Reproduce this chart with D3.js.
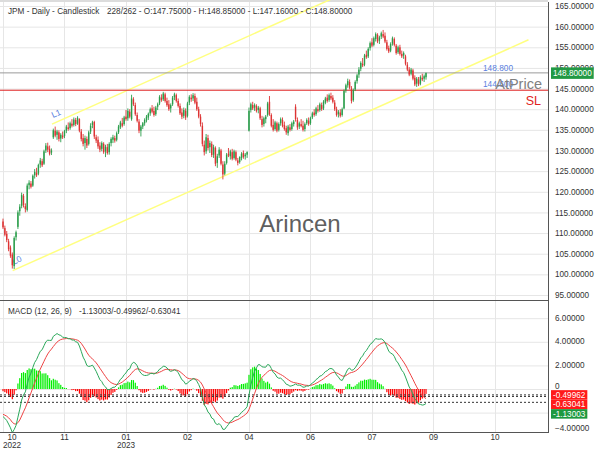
<!DOCTYPE html>
<html><head><meta charset="utf-8">
<script src="https://cdn.jsdelivr.net/npm/d3@7"></script>
<style>body{margin:0;background:#fff}svg{display:block;font-family:"Liberation Sans",Arial,sans-serif}</style>
</head><body><svg id="c" width="600" height="450"></svg>
<script>
// ---------- DATA ----------
const opens = [112.8,111.2,109.8,108.0,106.5,104.8,102.0,109.0,111.5,115.3,
116.6,119.0,116.5,115.6,121.6,122.0,121.5,124.0,124.6,124.4,
126.6,127.4,126.8,130.0,131.0,130.4,129.5,133.2,134.8,133.8,
134.4,132.9,133.6,133.5,134.8,135.6,135.4,136.5,136.2,137.4,
136.5,137.6,134.6,133.0,131.8,132.8,131.6,134.6,136.2,136.9,
133.2,132.6,131.2,130.4,131.6,129.8,130.8,129.6,131.8,132.6,
133.0,132.6,134.4,135.6,136.6,136.4,138.2,137.8,139.4,137.6,
142.4,141.0,138.6,137.0,134.8,135.8,136.6,137.3,138.0,139.0,
140.2,139.6,138.8,140.6,141.4,142.8,142.4,143.6,142.0,141.2,
140.2,141.2,142.9,143.4,142.0,140.8,139.2,138.4,139.6,138.4,
141.6,142.8,142.6,143.2,141.8,140.0,138.2,136.0,131.4,129.8,
133.0,130.8,131.6,129.0,130.6,127.0,128.8,130.0,126.6,124.4,
127.0,129.2,128.6,129.6,128.2,129.6,127.6,127.2,128.2,129.4,
128.6,129.0,134.8,139.8,141.0,140.4,140.8,139.8,140.2,137.6,
136.4,137.6,138.6,141.8,138.6,136.2,135.2,136.6,135.0,136.6,
137.4,136.2,135.4,134.2,135.6,135.2,136.4,140.6,137.4,135.8,
136.4,136.0,135.2,136.6,137.2,136.6,138.0,139.2,138.8,140.0,
139.8,141.0,140.2,141.6,142.8,142.2,143.2,142.8,141.6,140.0,
138.8,139.2,138.6,140.2,144.6,145.8,146.6,145.0,142.2,144.8,
146.8,148.4,149.8,151.0,150.8,153.2,152.8,154.8,156.2,155.6,
157.0,158.0,156.6,157.6,158.2,157.8,156.2,154.8,154.2,155.9,
157.0,155.4,153.8,155.0,153.4,153.0,152.8,150.8,149.6,148.6,
149.4,147.6,146.2,147.2,146.2,147.6,147.4,147.75];
const highs = [113.5,111.8,110.5,108.6,107.0,105.3,109.2,110.6,115.5,117.0,
119.8,119.5,117.2,122.0,122.8,122.6,124.2,125.5,125.8,126.8,
128.2,128.0,130.2,131.8,131.9,131.2,130.5,135.3,135.8,135.0,
134.9,134.2,134.6,135.0,136.2,136.8,137.0,137.6,138.0,137.9,
138.3,137.8,135.2,134.0,133.6,133.4,134.8,136.6,137.2,137.2,
133.8,133.4,132.0,132.2,132.0,131.4,131.6,132.0,133.2,133.8,
133.6,134.6,136.2,137.2,137.9,138.4,139.8,140.2,140.0,143.5,
142.9,141.6,139.2,137.6,136.2,136.9,137.8,138.6,139.2,140.4,
141.0,140.6,140.8,141.6,143.4,143.6,144.2,144.0,142.8,142.2,
141.4,143.2,144.0,143.8,142.6,141.4,140.2,140.4,140.2,141.8,
143.4,143.6,143.9,143.8,142.8,140.6,138.8,136.8,132.4,134.0,
133.8,132.4,132.2,131.4,131.0,129.2,130.8,130.4,127.4,127.4,
129.4,130.6,130.2,130.4,130.2,130.0,128.2,128.6,129.6,130.0,
129.4,129.8,140.4,141.6,141.8,141.4,141.2,140.8,140.6,138.4,
138.2,138.6,141.8,143.2,139.0,137.6,137.2,137.0,136.8,138.0,
138.0,137.0,136.0,136.2,136.4,137.0,137.4,141.2,138.0,137.0,
137.6,137.2,136.8,137.8,138.0,138.2,139.4,140.0,140.6,141.0,
141.6,141.6,142.2,143.0,143.6,143.8,144.0,143.4,142.2,140.6,
139.8,140.0,140.4,144.8,146.2,147.4,147.2,145.6,145.0,147.0,
148.6,150.2,151.6,152.4,153.4,154.2,155.0,156.4,157.2,157.6,
158.6,158.4,157.8,158.8,159.2,158.6,156.8,155.4,156.2,157.6,
157.4,155.8,155.4,155.6,154.2,154.0,153.2,151.4,150.2,150.0,
149.8,148.2,147.8,147.8,148.2,148.6,148.4,148.85];
const lows = [111.0,109.2,107.8,105.6,104.0,101.4,101.3,108.2,111.0,114.2,
116.0,116.2,115.0,115.2,120.6,120.8,121.2,123.2,123.6,124.0,
125.8,126.0,126.5,129.4,129.6,128.8,128.9,132.8,133.2,132.6,
132.2,132.0,132.8,133.0,134.2,134.8,135.0,135.6,135.8,135.9,
136.2,134.4,132.2,131.0,130.2,130.6,131.2,134.0,135.4,132.8,
131.8,130.4,129.6,129.8,129.2,128.4,129.0,129.0,131.0,131.8,
131.9,132.2,134.0,135.2,135.6,136.0,137.2,137.2,137.8,137.2,
140.8,138.4,136.8,134.2,133.4,135.2,136.0,136.8,137.4,138.4,
139.0,138.2,138.4,139.8,141.0,141.8,142.0,141.6,140.6,139.6,
139.2,140.8,142.2,141.6,140.4,138.6,137.6,137.8,137.4,138.0,
141.0,141.8,142.0,141.2,139.6,137.8,135.8,131.0,128.8,129.2,
130.0,129.4,128.4,128.2,126.2,125.8,128.2,126.4,123.0,124.0,
126.6,128.4,127.8,127.6,127.8,127.4,126.4,126.8,127.6,128.0,
127.8,128.2,134.6,139.2,139.8,139.6,139.2,139.0,137.4,135.6,
135.8,136.6,138.2,138.4,135.6,134.6,134.8,134.4,134.6,136.0,
135.6,134.8,133.8,133.6,134.6,134.8,135.8,137.0,135.0,135.2,
135.6,134.6,134.6,136.2,136.0,136.2,137.6,138.2,138.4,139.2,
139.4,139.6,139.8,141.2,141.6,141.8,142.2,141.4,139.6,138.2,
138.0,138.0,138.2,140.0,144.0,145.2,144.8,141.4,141.8,144.4,
146.2,147.6,149.2,150.2,150.4,152.2,152.4,154.2,155.0,155.2,
156.4,156.0,155.8,157.0,157.2,156.0,154.2,153.6,153.8,155.4,
155.2,153.2,153.4,153.0,152.4,152.2,150.6,149.2,148.0,148.2,
147.0,145.6,145.4,145.6,145.8,146.8,146.6,147.16];
const closes = [111.4,109.6,108.3,106.1,104.5,102.2,108.8,110.2,115.0,116.4,
119.2,116.8,115.8,121.5,122.2,121.2,123.9,124.8,124.0,126.5,
127.6,126.4,129.8,131.2,130.2,129.2,130.0,134.9,133.6,134.6,
132.8,133.8,133.2,134.7,135.8,135.2,136.6,136.0,137.5,136.4,
137.9,134.8,132.8,131.6,133.0,131.2,134.4,136.0,136.8,133.4,
132.4,131.0,130.2,131.8,129.6,130.9,129.4,131.6,132.8,133.2,
132.4,134.2,135.8,136.8,136.0,138.0,137.6,139.6,138.2,142.6,
141.2,138.8,137.2,134.8,135.8,136.6,137.4,138.2,138.9,140.0,
139.4,138.6,140.4,141.2,143.0,142.2,143.8,142.0,141.0,140.0,
141.0,142.8,143.6,142.0,140.8,139.0,138.2,139.8,138.0,141.4,
143.0,142.4,143.4,141.6,140.0,138.2,136.4,131.6,129.6,133.2,
130.6,131.8,128.9,130.8,126.8,128.6,130.2,126.8,124.2,126.8,
129.0,128.8,129.8,128.0,129.8,127.8,127.0,128.4,129.2,128.4,
129.0,129.6,139.6,141.2,140.2,141.0,139.6,140.4,137.8,136.2,
137.8,138.2,141.4,138.8,136.0,135.0,136.8,134.8,136.4,137.6,
136.0,135.2,134.4,135.8,135.0,136.6,137.0,137.6,135.6,136.6,
135.9,135.0,136.4,137.4,136.4,137.8,139.0,138.6,140.2,139.6,
141.2,140.0,141.8,142.6,142.0,143.4,142.6,141.8,140.0,138.6,
139.4,138.4,140.0,144.4,145.8,146.8,145.2,142.0,144.6,146.6,
148.2,149.6,151.2,150.6,153.0,152.6,154.6,156.0,155.4,157.2,
158.2,156.4,157.4,158.4,157.6,156.4,154.6,154.0,155.8,157.2,
155.6,153.6,155.0,153.4,152.8,153.6,151.0,149.6,148.4,149.6,
147.4,146.0,147.4,146.0,147.8,147.2,148.0,148.8];

const priceTicks = [95,100,105,110,115,120,125,130,135,140,145,150,155,160,165];
const macdTicks = [6,4,2,0,-2,-4];
const macdTickLabels = [6,4,2,0,-4];   // -2 label sits behind the value boxes in the reference
const xTickBars = [0,33,66,99,132,165,198,231,264];
const xTickMonths = ["10","11","01","02","04","06","07","09","10"];
const xTickYears = ["2022","","2023","","","","","",""];

const symbolTitle = "JPM - Daily - Candlestick";
const barInfo = "228/262 - O:147.75000 - H:148.85000 - L:147.16000 - C:148.80000";
const macdTitle = "MACD (12, 26, 9)";
const macdInfo = "-1.13003/-0.49962/-0.63041";
const lastPrice = 148.8;
const slPrice = 144.6;
const macdLast = -1.13003, signalLast = -0.49962, histLast = -0.63041;
// EMA state before the first visible bar (chart history starts earlier)
const ema12Seed = 114.0, ema26Seed = 116.3, signalSeed = -2.1;
// channel lines: [bar, price] anchors, slope in price per bar
const lowerAnchor = [5.2, 100.9], upperAnchor = [26.3, 136.4], channelSlope = 0.202, channelEnd = 282;

// ---------- LAYOUT ----------
const svg = d3.select("#c");
const axisX = 548, mainTop = 0, mainBot = 300, macdTop = 301, macdBot = 432;
const n = closes.length;
const x = d3.scaleLinear().domain([0, 227]).range([3, 426]);
const y = d3.scaleLinear().domain([95, 165]).range([295, 6]);
const ym = d3.scaleLinear().domain([-2, 6]).range([412.6, 318.2]);
const fmt5 = d3.format(".5f");
const UP = "#2a9d4b", DOWN = "#dd3333";

const defs = svg.append("defs");
defs.append("clipPath").attr("id","clipMain").append("rect").attr("x",0).attr("y",mainTop).attr("width",axisX).attr("height",mainBot-mainTop);
defs.append("clipPath").attr("id","clipMacd").append("rect").attr("x",0).attr("y",macdTop).attr("width",axisX).attr("height",macdBot-macdTop);

// grids
const grid = svg.append("g");
grid.selectAll("line.hg").data(priceTicks).join("line")
  .attr("x1",0).attr("x2",axisX).attr("y1",d=>y(d)+0.5).attr("y2",d=>y(d)+0.5)
  .attr("stroke","#e6e6e6");
grid.selectAll("line.hm").data(macdTicks.filter(d=>ym(d)<macdBot)).join("line")
  .attr("x1",0).attr("x2",axisX).attr("y1",d=>ym(d)+0.5).attr("y2",d=>ym(d)+0.5)
  .attr("stroke","#e6e6e6");
grid.selectAll("line.vg").data(xTickBars).join("line")
  .attr("x1",d=>Math.round(x(d))+0.5).attr("x2",d=>Math.round(x(d))+0.5)
  .attr("y1",mainTop).attr("y2",macdBot).attr("stroke","#e6e6e6");
svg.append("line").attr("x1",0).attr("x2",axisX).attr("y1",1).attr("y2",1).attr("stroke","#dcdcdc").attr("stroke-width",2);

// watermark
svg.append("text").attr("x",300).attr("y",232).attr("text-anchor","middle")
  .attr("font-size",24).attr("fill","#5f5f5f").text("Arincen");

// main pane
const main = svg.append("g").attr("clip-path","url(#clipMain)");
// channel
const lineGen = d3.line().x(d=>x(d[0])).y(d=>y(d[1]));
[lowerAnchor, upperAnchor].forEach(a=>{
  const pts = [a, [channelEnd, a[1] + channelSlope*(channelEnd - a[0])]];
  main.append("path").attr("d", lineGen(pts)).attr("fill","none")
    .attr("stroke","#ffff80").attr("stroke-width",1.5);
});
const ang = Math.atan2(y(upperAnchor[1]+channelSlope*10)-y(upperAnchor[1]), x(upperAnchor[0]+10)-x(upperAnchor[0]))*180/Math.PI;
[[upperAnchor,"L1"],[lowerAnchor,"L0"]].forEach(([a,t])=>{
  const px = x(a[0]) + 1, py = y(a[1]) - 6;
  main.append("text").attr("transform",`translate(${px},${py}) rotate(${ang})`)
    .attr("font-size",8.5).attr("fill","#5a7fe0").text(t);
});
// level lines
main.append("line").attr("x1",0).attr("x2",axisX).attr("y1",y(lastPrice)).attr("y2",y(lastPrice)).attr("stroke","#9a9a9a");
main.append("line").attr("x1",0).attr("x2",axisX).attr("y1",y(slPrice)).attr("y2",y(slPrice)).attr("stroke","#e02222");

// candles
const idx = d3.range(n);
const col = i => closes[i] >= opens[i] ? UP : DOWN;
main.selectAll("line.wick").data(idx).join("line")
  .attr("x1",i=>x(i)).attr("x2",i=>x(i))
  .attr("y1",i=>y(highs[i])).attr("y2",i=>y(lows[i]))
  .attr("stroke",col).attr("stroke-width",0.9);
main.selectAll("rect.body").data(idx).join("rect")
  .attr("x",i=>x(i)-0.7).attr("width",1.4)
  .attr("y",i=>y(Math.max(opens[i],closes[i])))
  .attr("height",i=>Math.max(0.8, Math.abs(y(opens[i])-y(closes[i]))))
  .attr("fill",col);

// level labels
svg.append("text").attr("x",483).attr("y",71).attr("font-size",8.3).attr("fill","#5a7fe0").text(lastPrice.toFixed(3));
svg.append("text").attr("x",483).attr("y",87).attr("font-size",8.3).attr("fill","#5a7fe0").text(slPrice.toFixed(3));
svg.append("text").attr("x",542).attr("y",89).attr("text-anchor","end").attr("font-size",14.5).attr("fill","#808080").text("AtPrice");
svg.append("text").attr("x",541).attr("y",105).attr("text-anchor","end").attr("font-size",12.5).attr("fill","#e02222").text("SL");

// headers
svg.append("text").attr("x",8).attr("y",13.5).attr("font-size",8.2).attr("fill","#333").text(symbolTitle);
svg.append("text").attr("x",107).attr("y",13.5).attr("font-size",8.2).attr("fill","#333").text(barInfo);

// ---------- MACD ----------
const k12 = 2/13, k26 = 2/27, k9 = 2/10;
let e12 = ema12Seed, e26 = ema26Seed, sg = signalSeed;
const macd = [], signal = [], hist = [];
closes.forEach(c=>{
  e12 = c*k12 + e12*(1-k12);
  e26 = c*k26 + e26*(1-k26);
  const m = e12 - e26;
  sg = m*k9 + sg*(1-k9);
  macd.push(m); signal.push(sg); hist.push(m - sg);
});
const mg = svg.append("g").attr("clip-path","url(#clipMacd)");
mg.selectAll("rect.h").data(idx).join("rect")
  .attr("x",i=>x(i)-0.6).attr("width",1.2)
  .attr("y",i=>Math.min(ym(0),ym(hist[i]))).attr("height",i=>Math.abs(ym(hist[i])-ym(0)))
  .attr("fill",i=>hist[i]>=0?"#00ee00":"#ff0000");
[signalLast, histLast, macdLast].forEach(v=>{
  mg.append("line").attr("x1",0).attr("x2",axisX).attr("y1",ym(v)).attr("y2",ym(v))
    .attr("stroke","#333").attr("stroke-dasharray","2,2");
});
const lm = d3.line().x((d,i)=>x(i)).y(d=>ym(d));
mg.append("path").attr("d",lm(signal)).attr("fill","none").attr("stroke","#ee4444").attr("stroke-width",1);
mg.append("path").attr("d",lm(macd)).attr("fill","none").attr("stroke","#2aa85a").attr("stroke-width",1);
svg.append("text").attr("x",8).attr("y",314).attr("font-size",8.2).attr("fill","#333").text(macdTitle);
svg.append("text").attr("x",79).attr("y",314).attr("font-size",8.2).attr("fill","#333").text(macdInfo);

// ---------- AXES ----------
const ax = svg.append("g").attr("transform",`translate(${axisX},0)`)
  .call(d3.axisRight(y).tickValues(priceTicks).tickFormat(fmt5).tickSize(0).tickPadding(7));
const axm = svg.append("g").attr("transform",`translate(${axisX},0)`)
  .call(d3.axisRight(ym).tickValues(macdTickLabels).tickFormat(d=>d===0?"0":fmt5(d)).tickSize(0).tickPadding(7));
[ax, axm].forEach(a=>{
  a.select(".domain").remove();
  a.selectAll("text").attr("font-size",8.2).attr("fill","#333").attr("font-family","Liberation Sans, Arial, sans-serif");
});
axm.selectAll(".tick").attr("transform",d=>`translate(0,${d===0?ym(d)-2.5:Math.min(ym(d),428)})`);
svg.append("line").attr("x1",axisX+0.5).attr("x2",axisX+0.5).attr("y1",2).attr("y2",macdBot).attr("stroke","#555");
svg.append("line").attr("x1",0).attr("x2",axisX).attr("y1",mainBot+0.5).attr("y2",mainBot+0.5).attr("stroke","#555");
svg.append("line").attr("x1",0).attr("x2",axisX+1).attr("y1",macdBot+0.5).attr("y2",macdBot+0.5).attr("stroke","#555");

// x labels
const xl = svg.append("g");
xTickBars.forEach((b,i)=>{
  const cx = Math.max(x(b), 12);
  xl.append("text").attr("x",cx).attr("y",439.5).attr("text-anchor","middle").attr("font-size",8.2).attr("fill","#333").text(xTickMonths[i]);
  if (xTickYears[i]) xl.append("text").attr("x",cx).attr("y",448).attr("text-anchor","middle").attr("font-size",8.2).attr("fill","#333").text(xTickYears[i]);
});

// value boxes
function box(yy, txt){
  const t = svg.append("text").attr("x",553).attr("y",yy).attr("dy","0.35em").attr("font-size",8.2).attr("fill","#fff").text(txt);
  return {t, w: t.node().getComputedTextLength()};
}
// price box
{
  const yy = y(lastPrice);
  const r = svg.append("rect").attr("x",551).attr("y",yy-5.5).attr("height",11.5).attr("fill","#229944");
  const b = box(yy+0.3, fmt5(lastPrice));
  r.attr("width", b.w + 4);
  b.t.raise();
}
// macd boxes with stacking
{
  const items = [
    {v:signalLast, txt:signalLast.toFixed(5), fill:"#ff1a1a"},
    {v:histLast, txt:histLast.toFixed(5), fill:"#ff1a1a"},
    {v:macdLast, txt:macdLast.toFixed(5), fill:"#1e9940"}
  ].sort((a,b)=>ym(a.v)-ym(b.v));
  const h = 9.5; let prevBottom = -1e9;
  items.forEach(it=>{
    let top = Math.max(ym(it.v) - h/2, prevBottom);
    prevBottom = top + h;
    const r = svg.append("rect").attr("x",551).attr("y",top).attr("height",h).attr("fill",it.fill);
    const b = box(top + h/2, it.txt);
    r.attr("width", b.w + 4);
    b.t.raise();
  });
}
</script></body></html>
